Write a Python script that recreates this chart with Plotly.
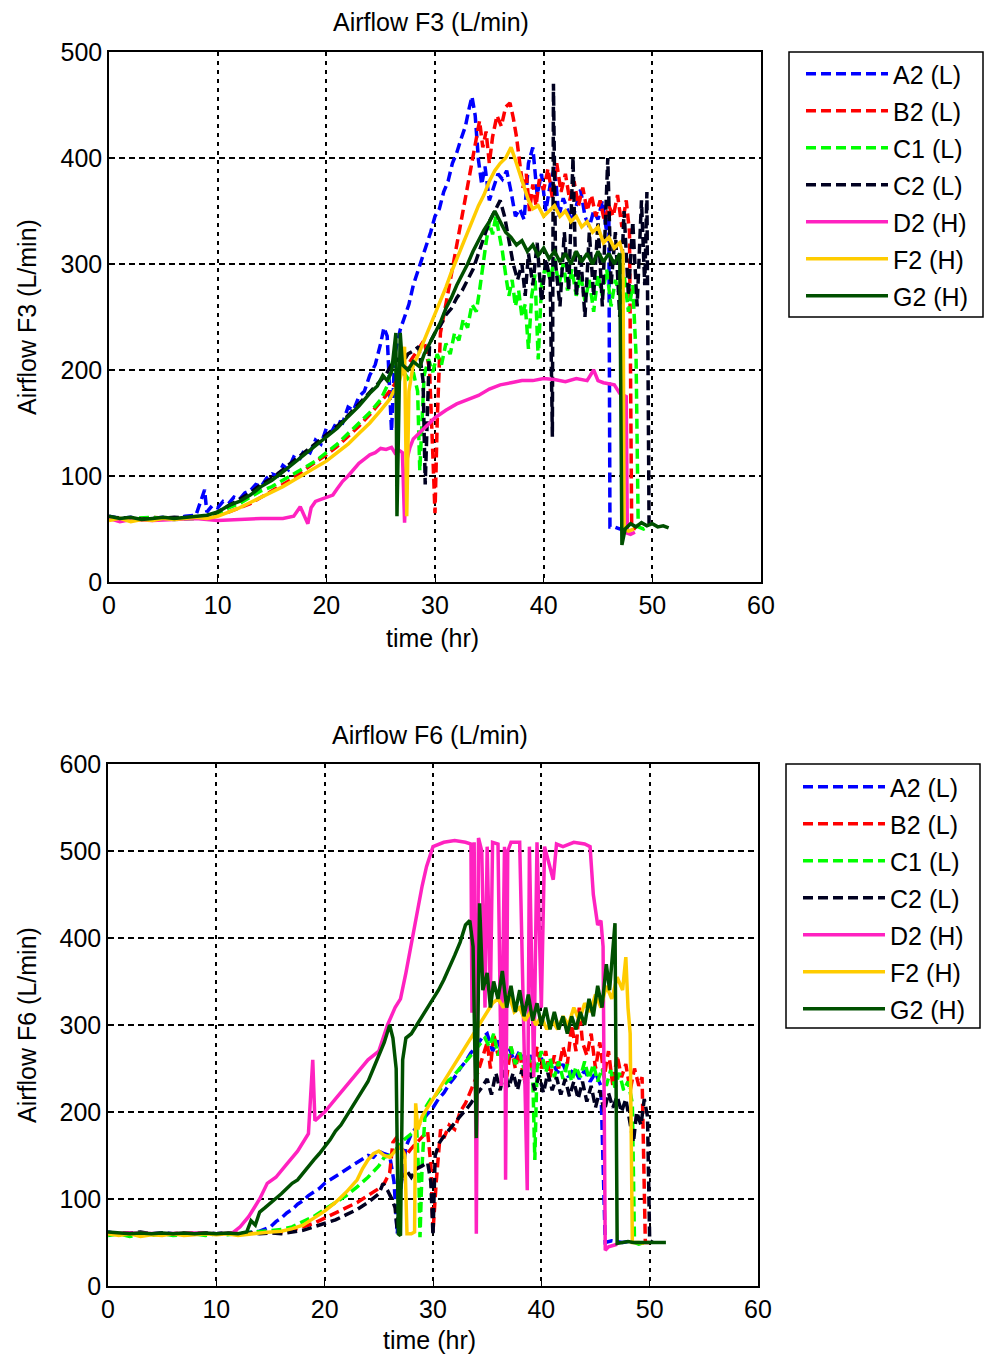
import plotly.graph_objects as go

# ---------------- data : (time hr, airflow L/min) ----------------
series_names = ["A2 (L)", "B2 (L)", "C1 (L)", "C2 (L)", "D2 (H)", "F2 (H)", "G2 (H)"]
series_colors = ["#0000FF", "#FF0000", "#00FF00", "#000020", "#FF22C0", "#FFCC00", "#005000"]
series_dash = ["10px,5px", "10px,5px", "10px,5px", "10px,5px", "solid", "solid", "solid"]

x_ticks = [0, 10, 20, 30, 40, 50, 60]
f3_y_ticks = [0, 100, 200, 300, 400, 500]
f6_y_ticks = [0, 100, 200, 300, 400, 500, 600]

# ---- Airflow F3 ----
A2_F3 = [(0,62),(1,60),(2,61),(3,59),(4,60),(5,61),(6,60),(7,62),(8,63),(8.8,87),(9,66),(9.5,72),(10,70),(10.5,76),(11,74),(11.5,80),(12,78),(12.5,84),(13,86),(13.5,92),(14,90),(14.5,98),(15,102),(15.5,100),(16,110),(16.5,106),(17,118),(17.5,115),(18,125),(18.5,122),(19,134),(19.5,130),(20,145),(20.5,142),(21,152),(21.5,150),(22,165),(22.5,162),(23,175),(23.5,180),(24,195),(24.5,205),(25,225),(25.3,240),(25.6,232),(26.0,142),(26.3,215),(26.8,238),(27.2,250),(27.6,262),(28,280),(28.4,292),(28.8,305),(29.2,318),(29.6,330),(30,345),(30.4,352),(30.8,368),(31.2,378),(31.6,395),(32,405),(32.4,418),(32.8,430),(33.1,445),(33.4,458),(33.7,440),(34.0,398),(34.3,375),(34.6,392),(35.0,360),(35.4,372),(35.8,385),(36.2,380),(36.6,388),(37.0,368),(37.4,345),(37.8,352),(38.2,342),(38.6,395),(39.0,410),(39.4,365),(39.8,385),(40.2,350),(40.6,375),(41.0,392),(41.4,345),(41.8,362),(42.2,350),(42.6,340),(43.0,355),(43.4,370),(43.8,345),(44.2,335),(44.6,350),(45.0,342),(45.4,360),(45.8,330),(46.0,345),(46.1,52),(46.5,52),(47,50),(47.8,52)]
B2_F3 = [(0,60),(2,59),(4,61),(6,60),(8,60),(9.5,61),(10,63),(11,66),(12,70),(13,74),(14,80),(15,86),(16,92),(17,98),(18,106),(19,113),(20,120),(21,128),(22,137),(23,147),(24,158),(25,170),(26,182),(26.5,190),(27,195),(27.5,205),(28,212),(28.5,220),(29,228),(29.5,200),(29.8,120),(30.0,65),(30.2,150),(30.5,235),(31,262),(31.5,290),(32,318),(32.5,345),(33,372),(33.4,395),(33.8,420),(34.1,435),(34.4,410),(34.7,425),(35.0,395),(35.3,420),(35.7,440),(36.1,430),(36.5,448),(36.9,452),(37.2,438),(37.5,420),(37.8,395),(38.1,372),(38.4,385),(38.7,350),(39.0,375),(39.3,355),(39.6,380),(40,370),(40.4,390),(40.8,362),(41.2,395),(41.6,368),(42,385),(42.4,360),(42.8,378),(43.2,355),(43.6,372),(44,350),(44.4,365),(44.8,345),(45.2,360),(45.6,340),(46,355),(46.4,345),(46.8,365),(47.2,335),(47.6,360),(47.9,330),(48.1,52),(48.5,50)]
C1_F3 = [(0,59),(2,60),(4,61),(6,59),(8,60),(9.5,62),(10,64),(11,70),(12,74),(13,80),(14,86),(15,90),(16,96),(17,102),(18,108),(19,114),(20,122),(21,130),(22,140),(23,150),(24,160),(25,172),(25.6,185),(26.1,208),(26.5,195),(27,200),(27.5,192),(28,198),(28.4,180),(28.6,105),(28.8,150),(29,195),(29.4,210),(29.8,198),(30.2,215),(30.6,205),(31,225),(31.4,215),(31.8,235),(32.2,228),(32.6,248),(33,240),(33.4,262),(33.8,255),(34.1,275),(34.4,300),(34.7,320),(35.0,340),(35.3,328),(35.6,345),(35.9,330),(36.2,312),(36.5,290),(36.8,270),(37.1,285),(37.4,260),(37.7,275),(38.0,250),(38.3,262),(38.6,220),(38.9,270),(39.2,290),(39.5,210),(39.8,280),(40.2,300),(40.6,285),(41,305),(41.4,280),(41.8,300),(42.2,275),(42.6,295),(43,270),(43.4,290),(43.8,265),(44.2,285),(44.6,255),(45,290),(45.4,270),(45.8,295),(46.2,260),(46.6,285),(47,270),(47.4,290),(47.8,255),(48.2,280),(48.5,215),(48.7,52),(49.2,50),(49.6,52)]
C2_F3 = [(0,61),(2,60),(4,59),(6,61),(8,60),(9.5,63),(10,66),(11,72),(12,78),(13,84),(14,92),(15,98),(16,106),(17,114),(18,122),(19,130),(20,138),(21,147),(22,157),(23,168),(24,178),(25,190),(25.5,196),(26,205),(26.5,210),(27,206),(27.5,215),(28,218),(28.5,222),(28.9,190),(29.1,92),(29.3,150),(29.5,225),(30,235),(30.5,242),(31,252),(31.5,258),(32,268),(32.5,275),(33,285),(33.5,295),(34,310),(34.5,325),(35,340),(35.5,350),(36,360),(36.4,345),(36.8,320),(37.2,300),(37.6,285),(38,300),(38.3,270),(38.6,310),(39,280),(39.4,320),(39.8,265),(40.2,305),(40.6,285),(40.8,137),(40.9,470),(41.1,300),(41.5,260),(41.9,330),(42.3,275),(42.7,400),(43.0,270),(43.4,310),(43.8,250),(44.2,330),(44.6,270),(45.0,340),(45.4,260),(45.9,400),(46.2,280),(46.6,330),(47.0,250),(47.4,350),(47.8,270),(48.2,340),(48.6,260),(49.0,360),(49.3,280),(49.5,368),(49.7,52),(50,52)]
D2_F3 = [(0,60),(1,57),(2,59),(4,58),(6,59),(8,60),(10,58),(12,59),(14,60),(16,60),(17,62),(17.6,71),(18,62),(18.3,55),(18.6,70),(19,76),(19.5,78),(20,80),(20.6,82),(21,88),(21.5,95),(22,100),(22.5,106),(23,112),(23.5,116),(24,120),(24.5,122),(25,126),(25.5,125),(26,127),(26.3,122),(26.6,125),(27,122),(27.2,56),(27.4,115),(27.7,127),(28,135),(28.5,140),(29,145),(29.5,150),(30,155),(31,162),(32,168),(33,172),(34,176),(35,182),(36,186),(37,188),(38,190),(39,190),(40,192),(41,191),(42,189),(43,192),(44,190),(44.6,200),(45,190),(45.5,188),(46,187),(46.5,186),(47.0,178),(47.6,175),(47.7,46),(48,45),(48.4,47)]
F2_F3 = [(0,58),(1,60),(2,57),(3,59),(4,58),(5,60),(6,59),(7,60),(8,61),(9,60),(10,62),(11,66),(12,70),(13,75),(14,80),(15,85),(16,90),(17,96),(18,102),(19,108),(20,114),(21,122),(22,130),(23,140),(24,150),(25,162),(25.8,172),(26.2,180),(26.6,185),(27.0,200),(27.2,222),(27.4,62),(27.6,180),(28,205),(28.5,215),(29,228),(29.5,240),(30,252),(30.5,265),(31,278),(31.5,292),(32,305),(32.5,318),(33,330),(33.5,342),(34,355),(34.5,365),(35,378),(35.5,388),(36,395),(36.5,400),(37.0,410),(37.4,398),(37.8,385),(38.2,372),(38.6,360),(39,352),(39.5,355),(40,345),(40.5,350),(41,355),(41.5,345),(42,350),(42.5,340),(43,345),(43.5,335),(44,340),(44.5,330),(45,335),(45.5,320),(46,325),(46.5,315),(47,320),(47.3,310),(47.4,50),(47.8,48),(48.3,50)]
G2_F3 = [(0,62),(1,60),(2,61),(3,59),(4,60),(5,61),(6,60),(7,61),(8,62),(9,63),(10,66),(11,72),(12,76),(13,82),(14,90),(15,96),(16,104),(17,112),(18,120),(19,128),(20,136),(21,145),(22,156),(23,166),(24,178),(24.7,185),(25.2,195),(25.6,190),(26.0,198),(26.4,235),(26.5,62),(26.7,200),(26.8,235),(27.0,205),(27.5,200),(28,208),(28.6,203),(29,215),(29.5,225),(30,235),(30.5,245),(31,258),(31.5,268),(32,280),(32.5,290),(33,300),(33.5,312),(34,322),(34.5,332),(35,340),(35.5,350),(36,340),(36.5,330),(37,325),(37.5,318),(38,322),(38.5,312),(39,318),(39.5,308),(40,315),(40.5,305),(41,312),(41.5,302),(42,310),(42.5,300),(43,312),(43.5,302),(44,310),(44.5,300),(45,312),(45.5,302),(46,310),(46.5,300),(47.0,310),(47.2,35),(47.5,50),(48,55),(48.5,52),(49,56),(49.5,53),(50,55),(50.5,52),(51,53),(51.5,51)]

# ---- Airflow F6 ----
A2_F6 = [(0,62),(1,60),(2,61),(3,59),(4,60),(5,61),(6,60),(7,59),(8,60),(9,61),(10,60),(11,61),(12,60),(13,62),(14,63),(15,68),(15.5,74),(16,78),(16.5,84),(17,88),(17.5,94),(18,98),(18.5,104),(19,108),(19.5,112),(20,118),(20.5,122),(21,126),(21.5,130),(22,135),(22.5,138),(23,142),(23.5,146),(24,150),(24.5,148),(25,155),(25.5,152),(26,150),(26.4,120),(26.7,60),(27.0,110),(27.5,160),(28,175),(28.5,182),(29,190),(29.5,198),(30,205),(30.5,215),(31,222),(31.5,232),(32,240),(32.5,250),(33,258),(33.5,268),(34,275),(34.5,285),(35,290),(35.5,270),(36,282),(36.5,265),(37,275),(37.5,258),(38,270),(38.5,255),(39,265),(39.5,250),(40,262),(40.5,248),(41,258),(41.5,245),(42,255),(42.5,240),(43,250),(43.5,238),(44,248),(44.5,235),(45,245),(45.5,230),(45.9,50),(46.5,52),(47.5,50),(48.5,52)]
B2_F6 = [(0,60),(2,61),(4,59),(6,60),(8,61),(10,60),(12,60),(14,61),(16,62),(17,64),(18,68),(19,72),(20,78),(21,84),(22,90),(23,96),(24,104),(25,112),(25.5,118),(26,130),(26.3,165),(26.6,170),(27,160),(27.5,150),(28,158),(28.5,165),(29,172),(29.5,178),(29.8,140),(30.0,62),(30.3,120),(30.7,180),(31,170),(31.5,185),(32,180),(32.5,200),(33,210),(33.5,225),(34,240),(34.5,260),(35,280),(35.3,250),(35.6,290),(36,265),(36.4,285),(36.8,240),(37.2,275),(37.6,250),(38,270),(38.4,235),(38.8,265),(39.2,245),(39.6,275),(40,250),(40.4,270),(40.8,240),(41.2,265),(41.6,250),(42,275),(42.4,255),(42.8,300),(43.2,270),(43.5,320),(43.8,280),(44.2,265),(44.6,290),(45,250),(45.4,280),(45.8,240),(46.2,270),(46.6,230),(47,265),(47.4,240),(47.8,255),(48.2,225),(48.6,250),(49,230),(49.3,240),(49.6,50),(50,50)]
C1_F6 = [(0,58),(1,60),(2,57),(3,59),(4,58),(5,60),(6,58),(7,59),(8,60),(9,58),(10,60),(11,59),(12,60),(13,61),(14,62),(15,63),(16,65),(17,68),(18,74),(19,80),(20,88),(21,96),(22,104),(23,114),(24,125),(25,138),(25.5,148),(26,150),(26.5,155),(27,165),(27.5,170),(28,175),(28.5,180),(28.7,120),(28.8,56),(29.0,140),(29.3,205),(29.8,215),(30.3,220),(30.8,228),(31.3,235),(31.8,240),(32.3,248),(32.8,255),(33.3,262),(33.8,270),(34.3,278),(34.8,285),(35.2,275),(35.6,290),(36,265),(36.4,280),(36.8,260),(37.2,275),(37.6,255),(38,268),(38.4,250),(38.8,265),(39.2,245),(39.4,145),(39.6,250),(40,270),(40.4,245),(40.8,262),(41.2,240),(41.6,258),(42,238),(42.4,255),(42.8,235),(43.2,252),(43.6,240),(44,258),(44.4,238),(44.8,255),(45.2,235),(45.6,250),(46,230),(46.4,248),(46.8,228),(47.2,245),(47.6,225),(48,235),(48.4,210),(48.6,50),(49,48),(49.5,50)]
C2_F6 = [(0,61),(1,60),(2,61),(3,62),(4,60),(5,61),(6,60),(7,61),(8,60),(9,61),(10,60),(11,61),(12,60),(13,61),(14,60),(15,61),(16,60),(17,62),(18,64),(19,68),(20,72),(21,76),(22,82),(23,88),(24,96),(25,106),(25.4,118),(25.8,110),(26.2,100),(26.5,90),(26.7,64),(26.9,110),(27.2,128),(27.6,132),(28,125),(28.5,135),(29,138),(29.5,142),(29.8,120),(30,58),(30.2,150),(30.6,165),(31,172),(31.5,180),(32,188),(32.5,195),(33,202),(33.5,210),(34,220),(34.5,228),(35,238),(35.4,220),(35.8,245),(36.2,225),(36.6,248),(37,228),(37.4,245),(37.8,225),(38.2,248),(38.6,230),(39,245),(39.4,225),(39.8,242),(40.2,222),(40.6,245),(41,225),(41.4,240),(41.8,220),(42.2,238),(42.6,218),(43,235),(43.4,215),(43.8,235),(44.2,212),(44.6,230),(45,205),(45.4,225),(45.8,200),(46.2,222),(46.6,205),(47,218),(47.4,200),(47.8,215),(48.2,185),(48.5,165),(48.8,200),(49.2,185),(49.5,215),(49.8,195),(50,52),(50.3,50)]
D2_F6 = [(0,60),(2,61),(5,60),(8,61),(10,60),(11.5,61),(12.2,68),(13,80),(13.5,90),(14,100),(14.7,118),(15.5,125),(16.5,140),(17.5,155),(18.5,175),(18.9,260),(19.1,190),(20,200),(21,215),(22,230),(23,245),(24,260),(25,270),(25.8,300),(26.5,320),(27,330),(27.5,360),(28,395),(28.5,425),(29,460),(29.4,482),(30,505),(31,510),(32,512),(33,510),(33.5,508),(33.6,314),(33.8,510),(34.0,60),(34.2,515),(34.5,500),(34.8,320),(35,505),(35.3,330),(35.5,510),(36,508),(36.3,230),(36.6,505),(36.7,122),(36.9,500),(37.2,510),(38,510),(38.7,110),(38.9,505),(39.3,240),(39.6,510),(40,320),(40.3,505),(41.1,467),(41.4,508),(42,505),(43,510),(44,508),(44.5,505),(44.8,450),(45.2,415),(45.5,420),(45.7,390),(45.9,41),(46.2,45),(47,48)]
F2_F6 = [(0,60),(1,58),(2,60),(3,57),(4,59),(5,58),(6,60),(7,58),(8,59),(9,60),(10,59),(11,60),(12,58),(13,60),(14,61),(15,62),(16,63),(17,66),(18,70),(19,78),(20,86),(21,96),(22,108),(23,122),(23.5,135),(24,145),(24.5,152),(25,155),(25.5,150),(26,148),(26.5,155),(27,160),(27.4,150),(27.6,60),(28,60),(28.3,62),(28.4,210),(28.6,180),(29,195),(29.5,205),(30,215),(30.5,225),(31,235),(31.5,245),(32,255),(32.5,265),(33,275),(33.5,285),(34,295),(34.5,305),(35,315),(35.5,325),(36,330),(36.5,320),(37,335),(37.5,315),(38,320),(38.5,305),(39,315),(39.5,300),(40,310),(40.5,295),(41,305),(41.5,295),(42,310),(42.5,300),(43,320),(43.5,305),(44,325),(44.5,315),(45,335),(45.5,320),(46,345),(46.5,330),(47,355),(47.5,340),(47.8,378),(48.0,320),(48.2,290),(48.4,50),(49,50),(49.5,49)]
G2_F6 = [(0,62),(1,61),(2,60),(3,61),(4,60),(5,61),(6,60),(7,61),(8,60),(9,61),(10,60),(11,61),(12,60),(12.8,62),(13.2,75),(13.6,70),(14,85),(14.5,90),(15,95),(15.5,100),(16,106),(16.5,112),(17,118),(17.5,122),(18,130),(18.5,138),(19,145),(19.5,152),(20,160),(20.5,168),(21,178),(21.5,185),(22,195),(22.5,205),(23,215),(23.5,225),(24,235),(24.5,250),(25,265),(25.5,280),(26,300),(26.3,285),(26.6,250),(26.8,60),(27.0,58),(27.2,260),(27.5,285),(28,290),(28.5,300),(29,310),(29.5,320),(30,330),(30.5,340),(31,352),(31.5,365),(32,380),(32.5,395),(33,415),(33.4,420),(33.7,390),(34,170),(34.2,380),(34.3,440),(34.6,340),(35,360),(35.3,320),(35.6,350),(36,330),(36.4,362),(36.8,320),(37.2,345),(37.6,315),(38,340),(38.4,310),(38.8,335),(39.2,305),(39.6,325),(40,300),(40.4,320),(40.8,295),(41.2,315),(41.6,295),(42,310),(42.4,290),(42.8,310),(43.2,295),(43.6,315),(44,300),(44.4,330),(44.8,310),(45.2,345),(45.6,320),(46,370),(46.3,340),(46.6,390),(46.8,417),(47.0,49),(47.5,50),(48,51),(48.5,50),(49,50),(49.5,51),(50,50),(50.5,51),(51,50),(51.5,50)]

F3_DATA = [A2_F3, B2_F3, C1_F3, C2_F3, D2_F3, F2_F3, G2_F3]
F6_DATA = [A2_F6, B2_F6, C1_F6, C2_F6, D2_F6, F2_F6, G2_F6]

# ---------------- figure ----------------
W, H = 984, 1357
FONT = "Liberation Sans, Arial, sans-serif"
FS = 25

def px_x(p):
    return p / W

def px_y(p):
    return 1 - p / H

fig = go.Figure()

for i, name in enumerate(series_names):
    for data, xa, ya, lg in ((F3_DATA[i], "x", "y", "legend"), (F6_DATA[i], "x2", "y2", "legend2")):
        t = [p[0] for p in data]
        v = [p[1] for p in data]
        fig.add_trace(go.Scatter(
            x=t, y=v, mode="lines", name=name,
            line=dict(color=series_colors[i], width=3.5, dash=series_dash[i]),
            xaxis=xa, yaxis=ya, legend=lg, legendgroup=f"{lg}{i}",
        ))

axis_common = dict(
    showline=True, linecolor="black", linewidth=1.5, mirror=True,
    showgrid=True, gridcolor="black", gridwidth=1.5,
    ticks="inside", ticklen=6, tickcolor="black",
    tickfont=dict(family=FONT, size=FS, color="black"),
    zeroline=False, fixedrange=True, automargin=False,
)

legend_common = dict(
    xanchor="left", yanchor="top", borderwidth=0, bgcolor="rgba(0,0,0,0)",
    font=dict(family=FONT, size=FS, color="black"),
    traceorder="grouped", tracegroupgap=1.5, itemwidth=82,
)

fig.update_layout(
    width=W, height=H,
    margin=dict(l=0, r=0, t=0, b=0, autoexpand=False),
    paper_bgcolor="white", plot_bgcolor="white",
    font=dict(family=FONT, size=FS, color="black"),
    xaxis=dict(domain=[px_x(109), px_x(761)], range=[0, 60], tickvals=x_ticks,
               anchor="y", griddash="4px,5px", **axis_common),
    yaxis=dict(domain=[px_y(582), px_y(52)], range=[0, 500], tickvals=f3_y_ticks,
               anchor="x", griddash="6px,4px", **axis_common),
    xaxis2=dict(domain=[px_x(108), px_x(758)], range=[0, 60], tickvals=x_ticks,
                anchor="y2", griddash="4px,5px", **axis_common),
    yaxis2=dict(domain=[px_y(1286), px_y(764)], range=[0, 600], tickvals=f6_y_ticks,
                anchor="x2", griddash="6px,4px", **axis_common),
    legend=dict(x=px_x(801), y=px_y(51), **legend_common),
    legend2=dict(x=px_x(798), y=px_y(764), **legend_common),
    showlegend=True,
    shapes=[
        dict(type="rect", xref="paper", yref="paper",
             x0=px_x(789), x1=px_x(983), y0=px_y(317), y1=px_y(52),
             line=dict(color="black", width=1.5), fillcolor="rgba(0,0,0,0)"),
        dict(type="rect", xref="paper", yref="paper",
             x0=px_x(786), x1=px_x(980), y0=px_y(1028), y1=px_y(764),
             line=dict(color="black", width=1.5), fillcolor="rgba(0,0,0,0)"),
    ],
)

ann = []
def add_text(text, x, y, angle=0):
    ann.append(dict(text=text, x=px_x(x), y=px_y(y), xref="paper", yref="paper",
                    showarrow=False, textangle=angle, xanchor="center", yanchor="middle",
                    font=dict(family=FONT, size=FS, color="black")))

add_text("Airflow F3 (L/min)", 431, 22)
add_text("time (hr)", 432, 638)
add_text("Airflow F3 (L/min)", 27, 317, -90)
add_text("Airflow F6 (L/min)", 430, 735)
add_text("time (hr)", 429, 1340)
add_text("Airflow F6 (L/min)", 27, 1025, -90)
fig.update_layout(annotations=ann)

fig.write_html("out.html")
